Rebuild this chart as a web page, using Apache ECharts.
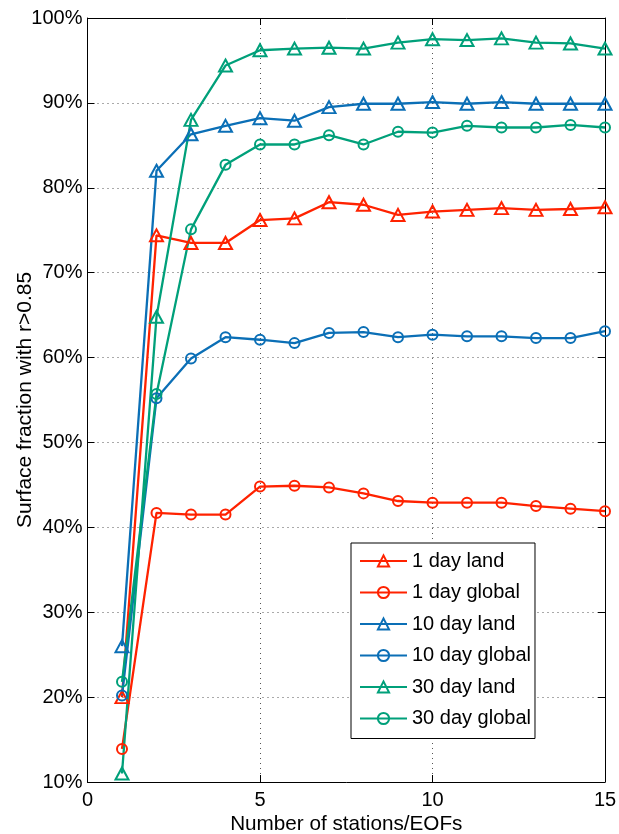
<!DOCTYPE html>
<html>
<head>
<meta charset="utf-8">
<title>Surface fraction with r>0.85</title>
<script src="https://cdn.jsdelivr.net/npm/echarts@6/dist/echarts.min.js"></script>
<style>
  html, body { margin: 0; padding: 0; background: #fff; }
  #chart { width: 619px; height: 834px; }
</style>
</head>
<body>
<div id="chart"></div>
<script>
// Number of stations / EOFs
const stations = [1, 2, 3, 4, 5, 6, 7, 8, 9, 10, 11, 12, 13, 14, 15];

// Surface fraction (%) where correlation exceeds 0.85
const day1Land     = [20.0, 74.4, 73.5, 73.5, 76.2, 76.4, 78.3, 78.0, 76.8, 77.2, 77.4, 77.6, 77.4, 77.5, 77.7];
const day1Global   = [13.9, 41.7, 41.5, 41.5, 44.8, 44.9, 44.7, 44.0, 43.1, 42.9, 42.9, 42.9, 42.5, 42.2, 41.9];
const day10Land    = [26.0, 82.0, 86.3, 87.3, 88.2, 87.9, 89.5, 89.9, 89.9, 90.1, 89.9, 90.1, 89.9, 89.9, 89.9];
const day10Global  = [20.2, 55.2, 59.9, 62.4, 62.1, 61.7, 62.9, 63.0, 62.4, 62.7, 62.5, 62.5, 62.3, 62.3, 63.1];
const day30Land    = [11.0, 64.8, 88.0, 94.4, 96.2, 96.4, 96.5, 96.4, 97.1, 97.5, 97.4, 97.6, 97.1, 97.0, 96.4];
const day30Global  = [21.8, 55.7, 75.1, 82.7, 85.1, 85.1, 86.2, 85.1, 86.6, 86.5, 87.3, 87.1, 87.1, 87.4, 87.1];

const seriesNames = ['1 day land', '1 day global', '10 day land', '10 day global', '30 day land', '30 day global'];
const seriesData = [day1Land, day1Global, day10Land, day10Global, day30Land, day30Global];

const RED = '#ff2200', BLUE = '#0b6fb6', GREEN = '#00a07a';
const colors = [RED, RED, BLUE, BLUE, GREEN, GREEN];
const isLand = [true, false, true, false, true, false];

const FONT = 'Liberation Sans, Arial, Helvetica, sans-serif';

const series = seriesNames.map((name, i) => ({
  name,
  type: 'line',
  data: stations.map((x, k) => [x, seriesData[i][k]]),
  color: colors[i],
  symbol: isLand[i] ? 'triangle' : 'circle',
  symbolSize: isLand[i] ? [13, 12] : 10,
  showAllSymbol: true,
  lineStyle: { color: colors[i], width: 2.3 },
  itemStyle: { color: 'rgba(255,255,255,0)', borderColor: colors[i], borderWidth: 2 },
  emphasis: { disabled: true },
  animation: false,
  z: 3
}));

const dotted = { show: true, lineStyle: { color: '#555', type: [1, 4], width: 1 } };
const blackLine = { show: true, onZero: false, lineStyle: { color: '#000', width: 1 } };
const tickIn = { show: true, inside: true, length: 7, lineStyle: { color: '#000', width: 1 } };

const chart = echarts.init(document.getElementById('chart'), null, { renderer: 'canvas' });
chart.setOption({
  backgroundColor: '#fff',
  animation: false,
  textStyle: { fontFamily: FONT },
  grid: { left: 87.5, right: 14, top: 18, bottom: 52, containLabel: false, outerBoundsMode: 'none' },
  xAxis: [
    {
      type: 'value', min: 0, max: 15, interval: 5, position: 'bottom',
      name: 'Number of stations/EOFs', nameLocation: 'middle', nameGap: 32, nameMoveOverlap: false,
      nameTextStyle: { fontSize: 20.7, color: '#000', fontFamily: FONT },
      axisLine: blackLine, axisTick: tickIn,
      axisLabel: { fontSize: 20, color: '#000', margin: 8, fontFamily: FONT },
      splitLine: dotted
    },
    {
      type: 'value', min: 0, max: 15, interval: 5, position: 'top',
      axisLine: blackLine, axisTick: tickIn, axisLabel: { show: false }, splitLine: { show: false }
    }
  ],
  yAxis: [
    {
      type: 'value', min: 10, max: 100, interval: 10, position: 'left',
      name: 'Surface fraction with r>0.85', nameLocation: 'middle', nameGap: 52, nameMoveOverlap: false,
      nameTextStyle: { fontSize: 21, color: '#000', fontFamily: FONT },
      axisLine: blackLine, axisTick: tickIn,
      axisLabel: { fontSize: 20, color: '#000', margin: 5, formatter: '{value}%', fontFamily: FONT },
      splitLine: dotted
    },
    {
      type: 'value', min: 10, max: 100, interval: 10, position: 'right',
      axisLine: blackLine, axisTick: tickIn, axisLabel: { show: false }, splitLine: { show: false }
    }
  ],
  legend: {
    orient: 'vertical',
    left: 351, top: 543,
    padding: [8, 4, 10, 8],
    itemWidth: 47, itemHeight: 14, itemGap: 11.5,
    backgroundColor: '#fff',
    borderColor: '#000', borderWidth: 1, borderRadius: 0,
    textStyle: { fontSize: 20, color: '#000', lineHeight: 20, fontFamily: FONT },
    data: seriesNames
  },
  series
});
</script>
</body>
</html>
